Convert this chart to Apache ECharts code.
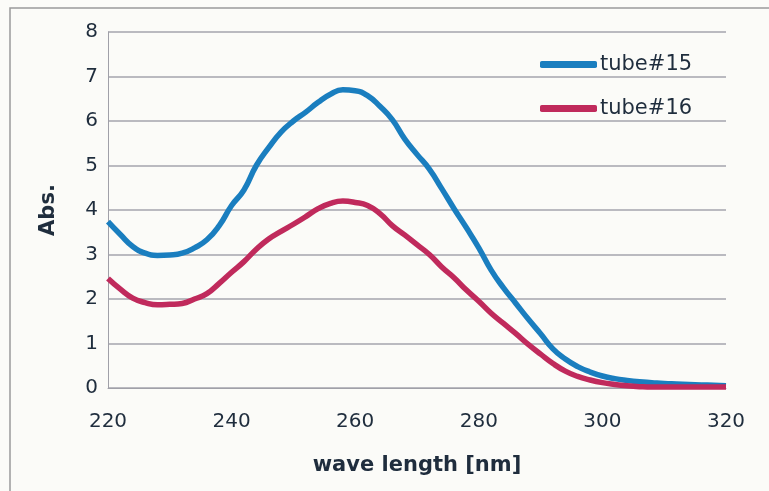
<!DOCTYPE html>
<html><head><meta charset="utf-8">
<script src="https://cdn.jsdelivr.net/npm/echarts@6/dist/echarts.min.js"></script>
<style>html,body{margin:0;padding:0;background:#fbfbf8;}#c{width:769px;height:491px;}</style>
</head><body><div id="c"></div>
<script>
const wavelengths = [220,222,224,226,228,230,232,234,236,238,240,242,244,246,248,250,252,254,256,258,260,262,264,266,268,270,272,274,276,278,280,282,284,286,288,290,292,294,296,298,300,302,304,306,308,310,312,314,316,318,320];
const tube15 = [3.74,3.45,3.18,3.03,2.98,2.99,3.03,3.15,3.33,3.65,4.10,4.45,5.00,5.40,5.75,6.00,6.20,6.42,6.60,6.70,6.68,6.57,6.33,6.03,5.60,5.25,4.92,4.48,4.03,3.60,3.15,2.65,2.25,1.90,1.55,1.22,0.88,0.65,0.48,0.36,0.27,0.21,0.17,0.14,0.12,0.10,0.09,0.08,0.07,0.06,0.05];
const tube16 = [2.46,2.22,2.02,1.92,1.87,1.88,1.90,2.00,2.12,2.35,2.60,2.84,3.12,3.35,3.52,3.68,3.85,4.03,4.15,4.20,4.17,4.10,3.92,3.65,3.44,3.22,3.00,2.72,2.48,2.20,1.95,1.68,1.45,1.22,0.98,0.76,0.55,0.38,0.26,0.18,0.12,0.08,0.05,0.03,0.02,0.02,0.02,0.02,0.02,0.02,0.02];
const seriesNames = ['tube#15','tube#16'];
const xTicks = [220,240,260,280,300,320];
const yTicks = [0,1,2,3,4,5,6,7,8];

const chart = echarts.init(document.getElementById('c'));
const txt = '#1f2d3d';
const font = 'DejaVu Sans, sans-serif';
chart.setOption({
  backgroundColor: '#fbfbf8',
  animation: false,
  graphic: [{type:'polyline', shape:{points:[[10,491],[10,8],[769,8]]}, style:{fill:'none', stroke:'#9a9a9a', lineWidth:1.5}}],
  grid: {left:108, right:43, top:32, bottom:103},
  legend: {
    orient:'vertical', left:535, top:49, itemWidth:57, itemHeight:7, itemGap:23,
    textStyle:{fontSize:21, color:txt, fontFamily:font, padding:[0,0,0,-2]},
    data: seriesNames.map(n=>({name:n, icon:'roundRect'}))
  },
  xAxis: {
    type:'value', min:xTicks[0], max:xTicks[xTicks.length-1], interval:20,
    name:'wave length [nm]', nameLocation:'middle', nameGap:67,
    nameTextStyle:{fontSize:21, fontWeight:'bold', color:txt, fontFamily:font},
    axisLine:{show:true, lineStyle:{color:'#a0a0a8', width:1}},
    axisTick:{show:false},
    splitLine:{show:false},
    axisLabel:{fontSize:20, color:txt, fontFamily:font, margin:24}
  },
  yAxis: {
    type:'value', min:yTicks[0], max:yTicks[yTicks.length-1], interval:1,
    name:'Abs.', nameLocation:'middle', nameGap:49, nameRotate:90,
    nameTextStyle:{fontSize:21, fontWeight:'bold', color:txt, fontFamily:font},
    axisLine:{show:true, lineStyle:{color:'#a0a0a8', width:1}},
    axisTick:{show:false},
    splitLine:{show:true, lineStyle:{color:'#a4a4ae', width:1.5}},
    axisLabel:{fontSize:20, color:txt, fontFamily:font, margin:10}
  },
  series: [
    {name:seriesNames[0], type:'line', showSymbol:false, smooth:true, data: wavelengths.map((w,i)=>[w,tube15[i]]),
     lineStyle:{color:'#1a7ebf', width:5.5}, itemStyle:{color:'#1a7ebf'}},
    {name:seriesNames[1], type:'line', showSymbol:false, smooth:true, data: wavelengths.map((w,i)=>[w,tube16[i]]),
     lineStyle:{color:'#c02a5c', width:5.5}, itemStyle:{color:'#c02a5c'}}
  ]
});
</script></body></html>
